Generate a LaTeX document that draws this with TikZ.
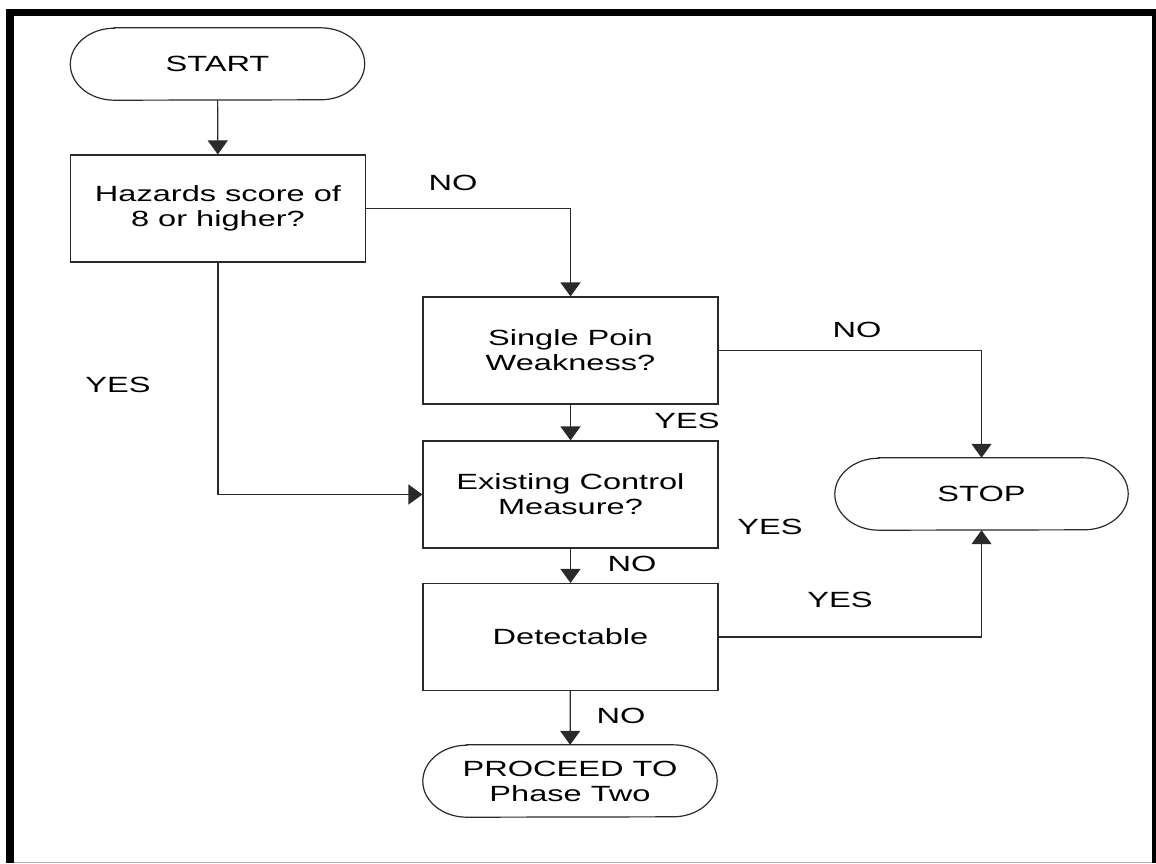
\documentclass[tikz,border=0pt]{standalone}
\usepackage{fontspec}
\setmainfont[FakeStretch=1.48]{Liberation Sans}
\usetikzlibrary{arrows.meta}
\definecolor{ln}{HTML}{2A2A2A}
\newcommand{\drawterm}[1]{\draw[draw=ln,line width=1.2pt] ([xshift=44pt]#1.north west) -- ([xshift=-44pt]#1.north east) arc[start angle=90,end angle=-90,x radius=44pt,y radius=36pt] -- ([xshift=44pt]#1.south west) arc[start angle=270,end angle=90,x radius=44pt,y radius=36pt] -- cycle;}
\begin{document}
\begin{tikzpicture}[x=1pt,y=-1pt,
  txt/.style={font=\fontsize{22}{25}\selectfont, text=black},
  box/.style={txt, draw=ln, line width=1.2pt, minimum width=295pt, minimum height=107pt, inner sep=0pt, align=center},
  term/.style={txt, minimum width=294pt, minimum height=72pt, inner sep=0pt, align=center},
  arr/.style={draw=ln, line width=1.2pt, -{Triangle[width=20pt,length=14pt]}},
  lbl/.style={txt, inner sep=0pt}]
\useasboundingbox (0,0) rectangle (1156,863);
% frame
\fill[white] (0,0) rectangle (1156,863);
\fill[black] (6,9) rectangle (1156,16);
\fill[black] (6,9) rectangle (14,863);
\fill[black] (1152,9) rectangle (1156,863);
\draw[gray!60, line width=1pt] (14,862) -- (1152,862);
% nodes
\node[term] (start) at (217.5,64) {START};
\node[box] (haz) at (218,208.5) {Hazards score of\\8 or higher?};
\node[box] (sp) at (570.5,350.5) {Single Poin\\Weakness?};
\node[box] (ex) at (570.5,494.5) {Existing Control\\Measure?};
\node[box] (det) at (570.5,637) {Detectable};
\node[term] (proc) at (570,781) {PROCEED TO\\Phase Two};
\node[term, minimum width=293pt] (stop) at (981.5,494) {STOP};
\drawterm{start}
\drawterm{proc}
\drawterm{stop}
% connectors
\draw[arr] (start) -- (haz);
\draw[arr] (haz.east) -| (sp.north);
\draw[arr] (haz.south) |- (ex.west);
\draw[arr] (sp) -- (ex);
\draw[arr] (sp.east) -| (stop.north);
\draw[arr] (ex) -- (det);
\draw[arr] (det.east) -| (stop.south);
\draw[arr] (det) -- (proc);
% labels
\node[lbl] (l1) at (453,183) {NO};
\node[lbl] (l2) at (118,385) {YES};
\node[lbl] (l3) at (857,330) {NO};
\node[lbl] (l4) at (687,421) {YES};
\node[lbl] (l5) at (770,527) {YES};
\node[lbl] (l6) at (632,564) {NO};
\node[lbl] (l7) at (840,600) {YES};
\node[lbl] (l8) at (621,716) {NO};
\end{tikzpicture}
\end{document}
